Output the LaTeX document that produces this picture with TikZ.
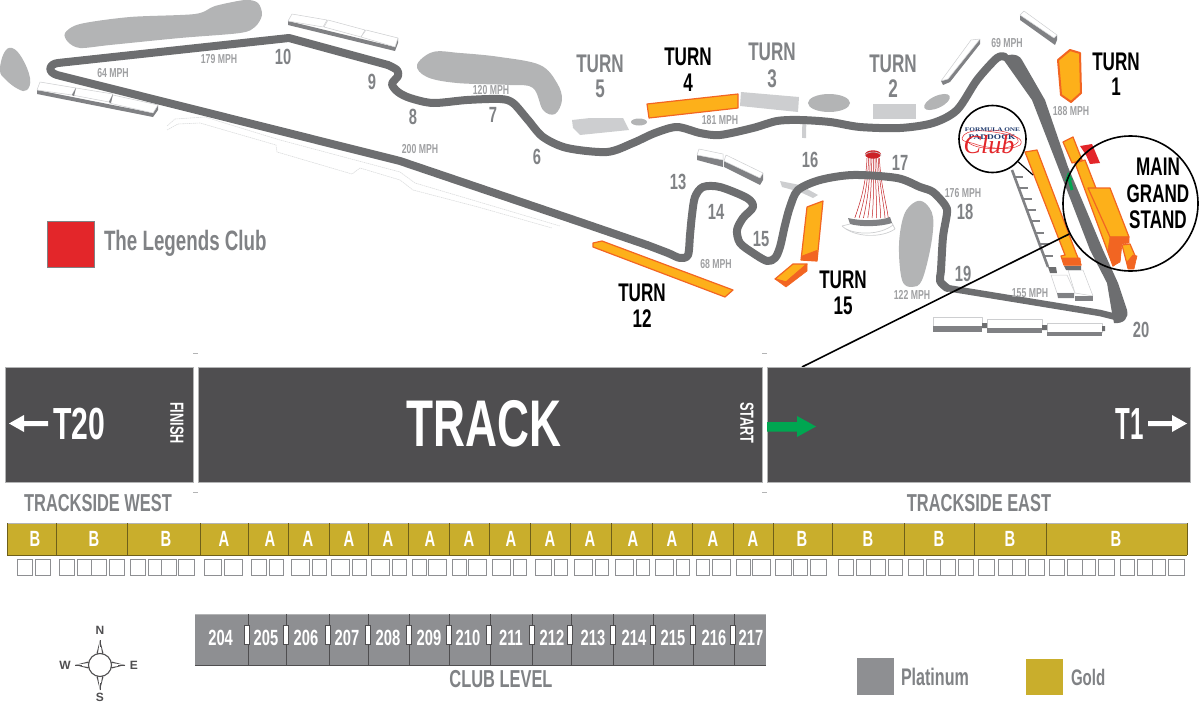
\documentclass[tikz,border=0pt]{standalone}
\usepackage{fontspec}
\setmainfont{Liberation Sans}
\newfontfamily\cf[FakeStretch=0.67,BoldFont={Liberation Sans Bold}]{Liberation Sans Bold}
\newfontfamily\sfl[FakeStretch=1.3]{Liberation Serif Bold}
\newfontfamily\scr{Liberation Serif Italic}
\definecolor{trk}{HTML}{6D6E70}
\definecolor{txtg}{HTML}{808285}
\definecolor{pond}{HTML}{B3B4B5}
\definecolor{lstand}{HTML}{CDCED0}
\definecolor{sside}{HTML}{808184}
\definecolor{org}{HTML}{FDB01A}
\definecolor{orge}{HTML}{F26522}
\definecolor{gold}{HTML}{C9AE2C}
\definecolor{golde}{HTML}{6E5F1A}
\definecolor{dark}{HTML}{4F4E50}
\definecolor{plat}{HTML}{8E8F92}
\definecolor{redc}{HTML}{E3262A}
\definecolor{grn}{HTML}{00A651}
\definecolor{navy}{HTML}{1F3A6E}
\tikzset{
 lab/.style={inner sep=0pt,outer sep=0pt,anchor=center},
 turng/.style={lab,text=txtg,font=\cf\fontsize{25.5}{25.5}\selectfont},
 turnb/.style={lab,text=black,font=\cf\fontsize{25.5}{25.5}\selectfont},
 num/.style={lab,text=txtg,font=\cf\fontsize{22}{22}\selectfont},
 mph/.style={lab,text=pond!60!txtg,font=\cf\fontsize{13}{13}\selectfont},
 head/.style={lab,text=txtg,font=\cf\fontsize{24.5}{24.5}\selectfont},
 whitet/.style={lab,text=white},
 seat/.style={lab,text=white,font=\cf\fontsize{22}{22}\selectfont},
 club/.style={lab,text=white,font=\cf\fontsize{22}{22}\selectfont},
 pondf/.style={fill=pond,draw=none},
 lsf/.style={fill=lstand,draw=none},
 ostand/.style={fill=org,draw=orge,line width=1.2pt,line join=round},
 oside/.style={fill=orge,draw=orge,line width=.6pt,line join=round},
 stop/.style={fill=white,draw=lstand,line width=.5pt,line join=round},
 sdark/.style={fill=sside,draw=none},
 track/.style={draw=trk,line width=8pt,line join=round,line cap=round},
 ring/.style={circle,draw=black,line width=1.6pt,inner sep=0pt},
 ghost/.style={draw=lstand!70,line width=.6pt,dash pattern=on 1.5pt off .6pt},
 sq/.style={draw=plat,line width=.9pt},
}
\begin{document}
\begin{tikzpicture}[x=1pt,y=-1pt]
\useasboundingbox (0,0) rectangle (1200,704);
% ponds
\fill[pondf] plot[smooth cycle,tension=.7] coordinates {(0,70)(4,53)(12,48)(22,58)(30,78)(27,90)(18,89)(5,79)};
\fill[pondf] plot[smooth cycle,tension=.5] coordinates {(65,33)(80,24)(130,17)(195,14)(215,6)(245,0)(258,3)(262,15)(255,27)(240,33)(180,38)(110,45)(80,48)(68,42)};
\fill[pondf] plot[smooth cycle,tension=.6] coordinates {(417,65)(433,52)(460,53)(500,57)(540,65)(557,83)(562,100)(555,114)(543,110)(533,88)(510,85)(457,83)(427,77)};
\fill[pondf] (829,103) ellipse [x radius=21,y radius=9];
\fill[pondf,shift={(937,102)},rotate=25] (0,0) ellipse [x radius=14,y radius=6];
\fill[pondf] (639,122) ellipse [x radius=8,y radius=3.5];
\fill[pondf] plot[smooth cycle,tension=.6] coordinates {(915,202)(925,203)(933,217)(931,245)(922,280)(912,287)(902,280)(899,245)(904,215)};
% light stands
\fill[lsf] (572,120)--(590,118)--(623,118)--(629,130)--(580,135)--(573,128)--cycle;
\fill[lsf] (741,92)--(799,97)--(798,112)--(740,106)--cycle;
\fill[lsf] (873,104) rectangle (916,119);
\draw[lstand,line width=4pt] (805,119) .. controls (804,125) and (804,132) .. (804,138);
\fill[lsf] (780,181)--(800,185)--(818,195)--(813,198)--(800,192)--(782,187)--cycle;
% ghost stand
\draw[ghost] (167,126)--(175,119)--(205,117)--(280,140)--(400,172)--(415,183)--(560,226);
\draw[ghost] (167,130)--(178,124)--(200,123)--(276,145)--(277,152)--(352,174)--(360,168)--(400,180)--(413,190)--(478,207)--(552,228);
% white stands
\fill[sdark] (37,90)--(153,113)--(158,105)--(158,110)--(153,117)--(37,94)--cycle;
\draw[stop] (40,82)--(76,88)--(72,95)--(37,90)--cycle;
\draw[stop] (76,88)--(113,94)--(109,102)--(72,95)--cycle;
\draw[stop] (113,95)--(158,105)--(153,113)--(109,103)--cycle;
\fill[sdark] (72,95)--(76,88)--(74,96)--cycle (109,102)--(113,94)--(111,103)--cycle;
\fill[sdark] (288,21)--(395,47)--(398,38)--(398,43)--(395,51)--(288,25)--cycle;
\draw[stop] (292,14)--(327,20)--(323,27)--(288,21)--cycle;
\draw[stop] (328,20)--(365,30)--(361,37)--(324,27)--cycle;
\draw[stop] (366,30)--(398,38)--(395,47)--(361,37)--cycle;
\fill[sdark] (697,155)--(723,160)--(723,167)--(697,160)--cycle;
\draw[stop] (699,149)--(723,154)--(723,160)--(697,155)--cycle;
\fill[sdark] (724,161)--(760,178)--(763,173)--(763,180)--(760,185)--(724,167)--cycle;
\draw[stop] (726,155)--(763,173)--(760,178)--(724,161)--cycle;
\fill[sdark] (948,79)--(980,39)--(980,44)--(950,82)--(943,85)--(941,81)--cycle;
\draw[stop] (941,81)--(971,40)--(980,39)--(948,79)--cycle;
\fill[sdark] (1020,15)--(1054,38)--(1057,35)--(1057,40)--(1055,45)--(1020,20)--cycle;
\draw[stop] (1020,15)--(1024,11)--(1057,35)--(1054,38)--cycle;
\draw[stop] (933,317) rectangle (982,327);
\fill[sdark] (933,326) rectangle (982,332);
\draw[stop] (987,319) rectangle (1042,328);
\fill[sdark] (987,328) rectangle (1042,333);
\draw[stop] (1047,323) rectangle (1102,332);
\fill[sdark] (1047,332) rectangle (1102,336);
\fill[trk] (982,323) rectangle (987,328) (1042,325) rectangle (1047,330) (1102,326) rectangle (1105,331);
\draw[stop] (1051,275)--(1067,275)--(1075,293)--(1057,293)--cycle;
\fill[sdark] (1057,293)--(1074,293)--(1074,298)--(1058,298)--cycle;
\draw[stop] (1068,270)--(1083,270)--(1093,296)--(1075,293)--cycle;
\fill[sdark] (1075,296)--(1093,296)--(1093,301)--(1075,301)--cycle;
\fill[trk] (1048,267)--(1056,267)--(1057,273)--(1050,273)--cycle;
\fill[trk] (1064,266)--(1081,266)--(1081,270)--(1066,270)--cycle;
% stepped stand
\draw[sside,line width=2.6pt] (1012,170)--(1048,267);
\foreach \yy/\xx in {177/1014,188/1019,199/1023,210/1027,221/1031,233/1035,244/1040,256/1044}
  \draw[sside,line width=1.6pt] (\xx,\yy)--(\xx+9,\yy);
% tower
\foreach \i in {-3,-2.2,-1.4,-.6,.2,1,1.8,2.6,3.2}
  \draw[redc!85!black,line width=.5pt] ({873+\i*2},158) .. controls ({873+\i*2.4},185) and ({873+\i*4},200) .. ({871+\i*5.4},218);
\fill[redc!90!black] (873,154.5) ellipse [x radius=8,y radius=4.2];
\draw[lstand,line width=.6pt] (865,156) arc[start angle=180,end angle=360,x radius=8,y radius=4];
\fill[sside] (848,218) .. controls (860,221) and (880,221) .. (890,217)--(892,223) .. controls (880,227) and (860,227) .. (850,224)--cycle;
\draw[lstand,line width=.7pt] (842,226) .. controls (855,238) and (882,238) .. (895,229);
\draw[lstand,line width=.7pt] (850,224)--(842,226) (892,223)--(895,229);
\draw[lstand,line width=.7pt] (846,229) .. controls (858,235) and (880,235) .. (893,225);
% track
\draw[track] plot[smooth,tension=.5] coordinates {(1005,57)(997,58)(977,80)(957,110)(933,123)(900,128)(860,127)(830,122)(800,120)(777,121)(753,128)(720,135)(700,133)(677,127)(655,133)(633,143)(607,152)(567,148)(543,137)(528,120)(513,103)(500,99)(467,100)(433,103)(410,98)(398,92)(392,84)(398,76)(397,70)(388,65)};
\draw[track] (388,65)--(289,38)--(58,63) .. controls (49,64) and (47,72) .. (57,75) --(400,161)--(580,222) -- (647,245);
\draw[track] plot[smooth,tension=.5] coordinates {(647,245)(668,253)(680,258)(688,255)(690,235)(692,215)(695,197)(703,187)(720,187)(747,198)(753,207)(743,218)(737,230)(740,243)(753,253)(767,261)(775,258)(780,247)(785,225)(790,207)(798,190)(820,180)(853,175)(897,178)(920,187)(933,192)(945,205)(947,213)(943,237)(941,270)(940,281)(947,288)};
\draw[track,line width=6.5pt] (947,288)--(1100,313)--(1116,317);
\fill[trk,line join=round] (1003,59) .. controls (1005,54) and (1018,52) .. (1022,60) -- (1045,100) -- (1068,167) -- (1082,200) -- (1103,250) -- (1118,283) -- (1127,310) .. controls (1129,318) and (1124,324) .. (1114,323) -- (1112,313) -- (1107,283) -- (1090,250) -- (1058,167) -- (1032,100) -- cycle;
% orange stands
\draw[ostand] (647,104)--(738,94)--(738,108)--(649,118)--cycle;
\draw[ostand,line width=2pt] (1058,60)--(1070,50)--(1080,53)--(1081,93)--(1071,102)--(1061,95)--cycle;
\draw[ostand] (593,243)--(602,241)--(733,290)--(725,297)--(593,247)--cycle;
\draw[ostand] (807,207)--(823,201)--(817,261)--(801,260)--cycle;
\fill[orge] (801,256)--(817,250)--(817,261)--(801,260)--cycle;
\draw[ostand] (775,279)--(793,264)--(807,264)--(786,282)--cycle;
\draw[oside] (775,279)--(786,282)--(807,264)--(807,271)--(786,287)--cycle;
\draw[ostand] (1063,142)--(1073,137)--(1082,160)--(1072,163)--cycle;
\fill[redc] (1080,146)--(1092,144)--(1100,163)--(1090,164)--(1086,155)--cycle;
\draw[ostand] (1025,152)--(1037,150)--(1076,253)--(1081,265)--(1064,265)--(1061,256)--(1065,255)--cycle;
\draw[oside] (1062,258)--(1080,258)--(1081,265)--(1064,265)--cycle;
\draw[ostand] (1075,163)--(1085,160)--(1120,250)--(1120,260)--(1113,266)--cycle;
\draw[ostand] (1088,188)--(1110,188)--(1129,237)--(1110,237)--cycle;
\draw[oside] (1110,237)--(1129,237)--(1129,243)--(1122,244)--(1120,262)--(1113,266)--(1108,250)--cycle;
\draw[ostand] (1122,245)--(1130,244)--(1136,258)--(1132,268)--(1128,268)--cycle;
\draw[oside] (1133,255)--(1137,256)--(1136,260)--(1134,269)--(1128,269)--(1127,262)--cycle;
% green arrow on track
\draw[grn,line width=3pt] (1072,190)--(1069,178);
\fill[grn] (1068,172)--(1073,180)--(1065,181)--cycle;
% big circles
\node[ring,minimum size=135pt] (gs) at (1130.5,203.5) {};
\node[ring,minimum size=67pt,fill=white] (pc) at (992.5,139) {};
\coordinate (trackedge) at (802,367);
\coordinate (stand) at (1033,175);
\draw[black,line width=1.6pt] (gs) -- (trackedge);
\draw[black,line width=1.2pt] (pc) -- (stand);
% paddock logo
\draw[redc,line width=.5pt] (962,138) .. controls (966,128) and (985,130) .. (1005,134) .. controls (1018,136) and (1024,140) .. (1020,145) .. controls (1012,151) and (985,148) .. (975,144) .. controls (966,141) and (962,142) .. (962,138);
\draw[redc,line width=.5pt] (968,142) .. controls (975,150) and (1010,152) .. (1018,142) .. controls (1020,136) and (1005,130) .. (990,130);
\node[lab,text=navy,font=\sfl\fontsize{5.6}{5.6}\selectfont] (pc1) at (992.5,130) {FORMULA ONE};
\node[lab,text=navy,font=\sfl\fontsize{7.2}{7.2}\selectfont] (pc2) at (992,137) {PADDOCK};
\node[lab,text=redc,font=\scr\fontsize{26}{26}\selectfont] (pc3) at (989,145) {Club};
% labels turn
\node[turng] (t5a) at (600,64) {TURN};
\node[turng] (t5b) at (600,89) {5};
\node[turng] (t3a) at (772,52) {TURN};
\node[turng] (t3b) at (772,79) {3};
\node[turng] (t2a) at (893,64) {TURN};
\node[turng] (t2b) at (893,89) {2};
\node[turnb] (t4a) at (688,57) {TURN};
\node[turnb] (t4b) at (688,83) {4};
\node[turnb] (t1a) at (1116,62) {TURN};
\node[turnb] (t1b) at (1116,87) {1};
\node[turnb] (t12a) at (642,293) {TURN};
\node[turnb] (t12b) at (642,319) {12};
\node[turnb] (t15a) at (843,280) {TURN};
\node[turnb] (t15b) at (843,306) {15};
\node[turnb] (mg1) at (1158,167) {MAIN};
\node[turnb] (mg2) at (1158,194) {GRAND};
\node[turnb] (mg3) at (1158,220) {STAND};
\foreach \t/\x/\y in {10/283/57,9/372/82,8/413/117,7/493/115,6/537/157,13/678/182,14/716/212,15/761/239,16/810/160,17/900/163,18/965/212,19/963/274,20/1141/330}
  \node[num] (n\t) at (\x,\y) {\t};
\foreach \t/\x/\y in {64/113/73,179/219/59,120/491/90,200/420/149,181/720/120,69/1007/43,188/1071/111,176/963/193,122/912/295,155/1030/293,68/716/264}
  \node[mph] (m\t) at (\x,\y) {\t{} MPH};
% legend
\fill[redc,draw=sside,line width=.8pt] (47,221) rectangle (94,267);
\node[lab,text=txtg,anchor=west,font=\cf\fontsize{28}{28}\selectfont] (leg) at (104,243) {The Legends Club};
\fill[plat] (857,658) rectangle (894,695);
\node[lab,text=txtg,anchor=west,font=\cf\fontsize{24}{24}\selectfont] (legp) at (901,677) {Platinum};
\fill[gold] (1026,659) rectangle (1063,695);
\node[lab,text=txtg,anchor=west,font=\cf\fontsize{22.5}{22.5}\selectfont] (legg) at (1071,677) {Gold};
% track boxes
\fill[dark,draw=pond,line width=.6pt] (5,367) rectangle (193,482);
\fill[dark,draw=pond,line width=.6pt] (198,367) rectangle (762,482);
\fill[dark,draw=pond,line width=.6pt] (767,367) rectangle (1190,482);
\foreach \xa/\xb/\yy in {193/198/353,193/198/492,762/767/353,762/767/492}
  \draw[pond,line width=.6pt] (\xa,\yy)--(\xb,\yy);
\node[whitet,font=\cf\fontsize{66}{66}\selectfont] (tt) at (484,424) {TRACK};
\node[whitet,font=\cf\fontsize{45}{45}\selectfont] (t20) at (79,424) {T20};
\node[whitet,font=\cf\fontsize{45}{45}\selectfont] (t1) at (1130,424) {\scalebox{.8}[1]{T1}};
\node[whitet,rotate=-90,font=\cf\fontsize{19}{19}\selectfont] (fin) at (177,423) {FINISH};
\node[whitet,rotate=-90,font=\cf\fontsize{19}{19}\selectfont] (sta) at (747,423) {START};
\fill[white] (48,421)--(24,421)--(24,415)--(9,423.5)--(24,432)--(24,426)--(48,426)--cycle;
\fill[white] (1148,421)--(1172,421)--(1172,415)--(1187,423.5)--(1172,432)--(1172,426)--(1148,426)--cycle;
\fill[grn] (767,422)--(797,422)--(797,416)--(816,426.5)--(797,437)--(797,431.5)--(767,431.5)--cycle;
\node[head] (tw) at (98,503) {TRACKSIDE WEST};
\node[head] (te) at (979,503) {TRACKSIDE EAST};
\node[head] (cl) at (501,679) {CLUB LEVEL};
% gold row
\fill[gold] (7,523) rectangle (1187,555);
\draw[pond,line width=.6pt] (7,522.8)--(1187,522.8);
\draw[golde,line width=.9pt] (7,555)--(1187,555) (7,523)--(7,555) (1187,523)--(1187,555);
\foreach \xx in {56,127,200,248,288,329,368,408,449,489,530,570,611,652,692,733,773,832,904,974,1046}
  \draw[golde,line width=.8pt] (\xx,523)--(\xx,555);
\foreach \i/\l/\xx in {1/B/35,2/B/94,3/B/166,4/A/224,5/A/270,6/A/308,7/A/349,8/A/388,9/A/430,10/A/469,11/A/511,12/A/550,13/A/590,14/A/633,15/A/672,16/A/713,17/A/753,18/B/802,19/B/868,20/B/939,21/B/1010,22/B/1116}
  \node[seat] (s\i) at (\xx,539) {\l};
\foreach \a/\b in {17.5/32.5,35.5/50.5,59/74,77/91,91/106,109/124,130/145,148/161,161/176,178/194,204/221,224/242,251/266,269/283,291/309,312/326,331/349,352/366,371/389,392/406,412/426,428/446,452/466,468/486,492/510,513/526,535/551,554/567,574/592,595/608,615/633,636/649,655/673,676/689,696/709,712/730,736/750,752/770,775/791,793/807,810/826,838/853,856/870,870/885,888/902,908/923,926/940,940/955,958/973,978/994,998/1012,1012/1025,1028/1044,1049/1064,1067/1082,1082/1095,1098/1114,1120/1134,1137/1152,1152/1165,1168/1184}
  \draw[sq] (\a,559) rectangle (\b,575);
% club level
\fill[plat] (195,614) rectangle (766,665);
\draw[dark,line width=.7pt] (195,665)--(766,665);
\draw[pond,line width=.5pt] (195,614)--(766,614);
\foreach \xx in {248,286,329,368,409,449,490,532,571,613,653,693,734}
  \draw[dark,line width=.6pt] (\xx,614)--(\xx,665);
\foreach \xx in {247,286,328,368,409,449,489,532,570,613,653,693,733}
  \draw[fill=white,draw=dark,line width=.5pt] (\xx-2.5,625) rectangle (\xx+2.5,644);
\foreach \t/\xx in {204/220.6,205/266,206/306,207/347,208/388,209/429,210/468,211/511,212/552,213/593,214/634,215/673,216/714,217/751}
  \node[club] (c\t) at (\xx,638) {\t};
% compass
\node[circle,draw=dark,line width=1.1pt,minimum size=23pt,inner sep=0pt] (comp) at (100,665) {};
\foreach \a in {0,90,180,270}{
  \begin{scope}[shift={(100,665)},rotate=\a]
    \fill[dark] (2.2,-11)--(3.4,-12)--(0,-25)--cycle;
    \fill[dark] (-2.2,-11)--(-3.4,-12)--(0,-25)--cycle;
    \draw[dark,line width=.4pt] (0,-25)--(0,-18);
  \end{scope}}
\node[lab,text=dark,font=\fontsize{12}{12}\selectfont\bfseries] (cn) at (100,630) {N};
\node[lab,text=dark,font=\fontsize{12}{12}\selectfont\bfseries] (cs) at (100,697.5) {S};
\node[lab,text=dark,font=\fontsize{12}{12}\selectfont\bfseries] (cw) at (65,665) {W};
\node[lab,text=dark,font=\fontsize{12}{12}\selectfont\bfseries] (ce) at (134,665) {E};
\end{tikzpicture}
\end{document}
